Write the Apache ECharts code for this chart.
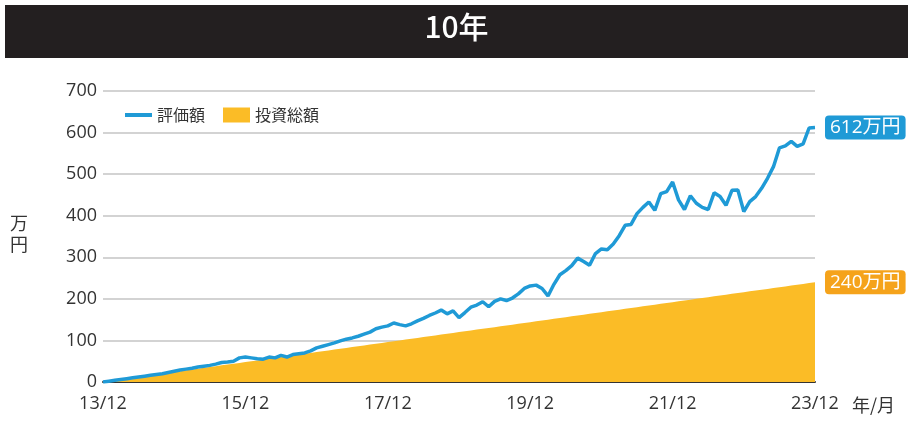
<!DOCTYPE html>
<html><head><meta charset="utf-8">
<script src="https://cdn.jsdelivr.net/npm/echarts@6/dist/echarts.min.js"></script>
<style>html,body{margin:0;padding:0;background:#fff}#c{width:913px;height:421px}</style>
</head><body><div id="c"></div>
<script>
const titleText = '10年';
const yTicks = [0,100,200,300,400,500,600,700];
const months = [];
for (let y = 13; y <= 23; y++) {
  for (let m = 1; m <= 12; m++) {
    if ((y === 13 && m < 12) || (y === 23 && m > 12)) continue;
    months.push(String(y).padStart(2,'0') + '/' + m);
  }
}
const valuation = [0,2,4,6,8,10,12,14,16,18,20,23,26,29,31,33,36,38,40,43,47,48,50,58,60,58,56,55,60,58,64,60,66,68,70,75,82,86,90,94,99,103,106,110,115,120,128,132,135,142,138,135,140,147,153,160,166,173,164,171,155,167,180,185,193,181,194,200,196,202,212,225,231,233,225,207,235,258,268,280,298,290,281,309,320,318,332,352,377,379,405,420,433,413,453,458,481,438,415,448,430,420,415,455,446,425,461,462,410,434,446,466,490,518,563,568,579,567,573,611,612];
const invested = [0,2,4,6,8,10,12,14,16,18,20,22,24,26,28,30,32,34,36,38,40,42,44,46,48,50,52,54,56,58,60,62,64,66,68,70,72,74,76,78,80,82,84,86,88,90,92,94,96,98,100,102,104,106,108,110,112,114,116,118,120,122,124,126,128,130,132,134,136,138,140,142,144,146,148,150,152,154,156,158,160,162,164,166,168,170,172,174,176,178,180,182,184,186,188,190,192,194,196,198,200,202,204,206,208,210,212,214,216,218,220,222,224,226,228,230,232,234,236,238,240];
const seriesNames = ['評価額','投資総額'];
const endLabels = ['612万円','240万円'];

const FONT = '"Open Sans","Noto Sans CJK JP",sans-serif';
const JP = '"Noto Sans CJK JP",sans-serif';
const chart = echarts.init(document.getElementById('c'), null, {renderer:'canvas'});
chart.setOption({
  animation: false,
  textStyle: {fontFamily: FONT},
  graphic: [
    {type:'rect', shape:{x:5,y:5,width:903,height:53}, style:{fill:'#231f20'}, z:10},
    {type:'text', left:'center', top:12, style:{text:titleText, fill:'#fff', font:'500 30px "Noto Sans CJK JP",sans-serif'}, z:11},
    {type:'text', left:10, top:213, style:{text:'万\n円', fill:'#333', font:'18px "Noto Sans CJK JP",sans-serif', lineHeight:21}}
  ],
  legend: {
    left: 120, top: 102,
    itemWidth: 27, itemHeight: 15, itemGap: 18,
    textStyle: {fontSize: 16, color:'#333', fontFamily:JP},
    data: [
      {name: seriesNames[0], icon:'path://M0,0 M0,5.5 L27,5.5 L27,9.5 L0,9.5 Z M27,15'},
      {name: seriesNames[1], icon:'rect'}
    ]
  },
  grid: {left:103, right:98, top:91, bottom:39, containLabel:false},
  xAxis: {
    type:'category', data: months, boundaryGap:false,
    axisLine:{lineStyle:{color:'#333', width:2}},
    axisTick:{show:false},
    axisLabel:{interval:23, color:'#333', fontSize:18, margin:13, fontFamily:FONT},
    name:'年/月', nameLocation:'end', nameGap:37,
    nameTextStyle:{color:'#333', fontSize:18, verticalAlign:'top', padding:[14,0,0,0], fontFamily:JP}
  },
  yAxis: {
    type:'value', min:0, max:700, interval:100,
    axisLine:{show:false}, axisTick:{show:false},
    axisLabel:{color:'#333', fontSize:18, margin:6, fontFamily:FONT},
    splitLine:{lineStyle:{color:'#d3d3d3', width:2}}
  },
  series: [
    {
      name: seriesNames[1], type:'line', data: invested, symbol:'none',
      color:'#fbbc26',
      lineStyle:{width:0, color:'#fbbc26'},
      areaStyle:{color:'#fbbc26', opacity:1},
      z:2,
      endLabel:{show:true, formatter: endLabels[1], color:'#fff', backgroundColor:'#f5a31b',
        padding:[3,5,2,5], borderRadius:4, fontSize:19, distance:10, fontFamily:FONT}
    },
    {
      name: seriesNames[0], type:'line', data: valuation, symbol:'none',
      color:'#1f9ad6',
      lineStyle:{width:3.5, color:'#1f9ad6'},
      z:3,
      endLabel:{show:true, formatter: endLabels[0], color:'#fff', backgroundColor:'#1f9ad6',
        padding:[3,5,2,5], borderRadius:4, fontSize:19, distance:10, fontFamily:FONT}
    }
  ]
});
</script></body></html>
